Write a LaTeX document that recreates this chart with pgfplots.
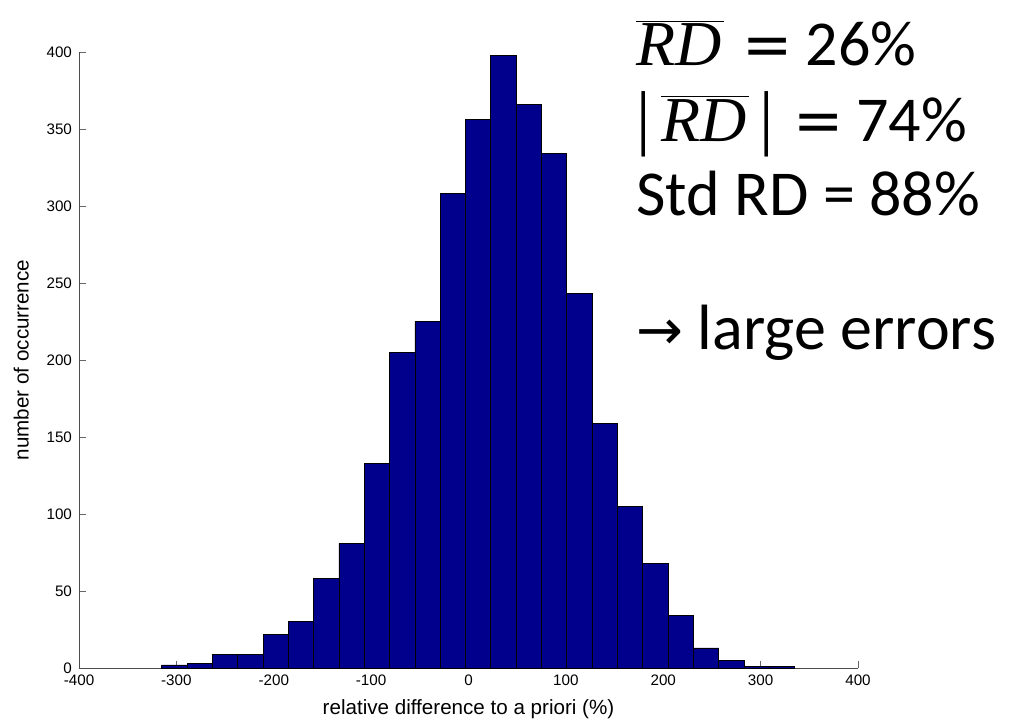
\documentclass[border=0pt]{standalone}
\usepackage{fontspec}
\setmainfont{Liberation Sans}
\newfontfamily\calibri{Carlito}
\newfontfamily\cambria{Liberation Serif}
\newfontfamily\symb{DejaVu Sans}
\usepackage{pgfplots}
\pgfplotsset{compat=1.18}
\definecolor{histblue}{RGB}{0,0,140}
\newcommand{\RDbar}{$\overline{\hbox{\cambria\itshape RD\kern1pt}}$}
\newcommand{\eq}{\hspace{0.3em}{\symb\fontsize{30}{34}\selectfont =}\hspace{0.2em}}

\begin{document}
\begin{tikzpicture}
\begin{axis}[
    name=ax,
    scale only axis,
    width=389.5pt, height=308pt,
    xmin=-400, xmax=400, ymin=0, ymax=400,
    axis x line*=bottom, axis y line*=left,
    axis line style={draw=black!70},
    tick align=inside,
    major tick length=3.5pt,
    tick style={black!60},
    xtick={-400,-300,...,400},
    ytick={0,50,...,400},
    ticklabel style={font=\fontsize{7.6}{9}\selectfont},
    /pgf/number format/assume math mode=true,
    xlabel={relative difference to a priori (\%)},
    ylabel={number of occurrence},
    label style={font=\fontsize{10.3}{12}\selectfont},
    xlabel style={yshift=0pt},
    ylabel style={yshift=2pt},
    clip=false,
]
% histogram, 25 bins of width 26 from -315 to 335 (left edges, last repeated)
\addplot[ybar interval, fill=histblue, draw=black, line width=0.4pt]
coordinates {
    (-315,2) (-289,3) (-263,9) (-237,9) (-211,22)
    (-185,30) (-159,58) (-133,81) (-107,133) (-81,205)
    (-55,225) (-29,308) (-3,356) (23,398) (49,366)
    (75,334) (101,243) (127,159) (153,105) (179,68)
    (205,34) (231,13) (257,5) (283,1) (309,1) (335,1)
};
\node[anchor=base west, inner sep=0pt, font=\calibri\fontsize{32}{38}\selectfont]
    at (axis cs:172,391) {\RDbar\eq 26\%};
\node[anchor=base west, inner sep=0pt, font=\calibri\fontsize{32}{38}\selectfont]
    at (axis cs:172,342) {{\cambria\fontsize{36}{40}\selectfont|}\,\RDbar\,{\cambria\fontsize{36}{40}\selectfont|}\eq 74\%};
\node[anchor=base west, inner sep=0pt, font=\calibri\fontsize{32}{38}\selectfont]
    at (axis cs:172,294) {Std RD = 88\%};
\node[anchor=base west, inner sep=0pt, font=\calibri\fontsize{32}{38}\selectfont]
    at (axis cs:172,207) {{\symb\fontsize{28}{34}\selectfont →} large errors};
\end{axis}
\path ([shift={(-39.5pt,-25pt)}]ax.south west) rectangle ([shift={(79.5pt,26pt)}]ax.north east);
\end{tikzpicture}
\end{document}
